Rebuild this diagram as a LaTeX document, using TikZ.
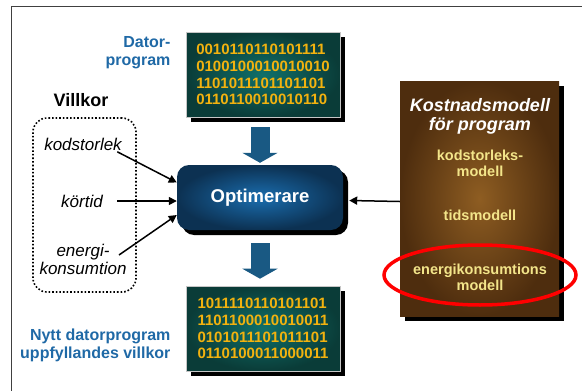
\documentclass[tikz,border=0pt]{standalone}
\usepackage{fontspec}
\setmainfont{Liberation Sans}
\usetikzlibrary{arrows.meta,calc,shadows}
\definecolor{labelblue}{HTML}{1F69A6}
\definecolor{bitgold}{HTML}{F2B20F}
\definecolor{tealdark}{HTML}{0A3C38}
\definecolor{tealmid}{HTML}{10706A}
\definecolor{optdark}{HTML}{0C3152}
\definecolor{optmid}{HTML}{1A6DAE}
\definecolor{browndark}{HTML}{4E2D0E}
\definecolor{brownmid}{HTML}{8E5D22}
\definecolor{modelyellow}{HTML}{F3E58A}
\definecolor{arrowblue}{HTML}{195983}
\tikzset{
  boxshadow/.style={drop shadow={shadow xshift=5pt,shadow yshift=-5pt,opacity=1,fill=black}},
  bits/.style={boxshadow,shade,inner color=tealmid,outer color=tealdark,draw=gray!45,line width=.6pt,
    minimum width=154pt,minimum height=85pt,align=left,text=bitgold,
    font=\bfseries\fontsize{15}{16.7}\selectfont},
  bluelbl/.style={anchor=east,align=right,text=labelblue,font=\bfseries\fontsize{16}{18}\selectfont},
  cond label/.style={align=center,font=\itshape\fontsize{17}{18}\selectfont},
  model/.style={align=center,text=modelyellow,font=\bfseries\fontsize{14.5}{16}\selectfont},
  conn/.style={line width=1.5pt,-{Triangle[length=8pt,width=8pt]}},
  fatarrow/.style={draw=arrowblue,line width=19pt,-{Triangle[length=10pt,width=35pt]}}
}
\begin{document}
\begin{tikzpicture}[x=1pt,y=-1pt]
\useasboundingbox (0,0) rectangle (582,391);
\draw[black!75,line width=1pt] (11,391) -- (11,6) -- (582,6);

% program before and after
\node[bits] (prog) at (263,74.5) {0010110110101111\\0100100010010010\\1101011101101101\\0110110010010110};
\node[bits] (newprog) at (263,328.5) {1011110110101101\\1101100010010011\\0101011101011101\\0110100011000011};
\node[bluelbl] (progname) at (174,52.5) {Dator-\\program};
\node[bluelbl] (newname) at (174,345.5) {Nytt datorprogram\\uppfyllandes villkor};

% optimizer
\node[boxshadow,shade,inner color=optmid,outer color=optdark,rounded corners=12pt,
  minimum width=166pt,minimum height=65pt,text=white,
  font=\bfseries\fontsize{18.5}{20}\selectfont] (opt) at (260,197.5) {Optimerare};
\draw[fatarrow,shorten <=10pt,shorten >=2pt] (prog.south -| opt) -- (opt.north);
\draw[fatarrow,shorten <=13pt,shorten >=7pt] (opt.south) -- (newprog.north -| opt);

% conditions
\node[font=\bfseries\fontsize{18}{20}\selectfont] (villkor) at (81,100) {Villkor};
\node[draw,line width=1.6pt,dash pattern=on 1.6pt off 2pt,rounded corners=14pt,
  minimum width=103pt,minimum height=174pt] (cond) at (84.5,205) {};
\node[cond label] (kod) at (83,144) {kodstorlek};
\node[cond label] (kort) at (82,201) {körtid};
\node[cond label] (en) at (83,259) {energi-\\konsumtion};
\draw[conn] ($(kod.south east)+(-8,-2)$) -- ($(opt.west)+(0,-15)$);
\draw[conn] ($(kort.east)+(11,0)$) -- (opt.west |- kort);
\draw[conn] ($(en.east)+(-11,-4)$) -- ($(opt.west)+(0,17.5)$);

% cost model
\node[boxshadow,shade,inner color=brownmid,outer color=browndark,
  minimum width=159pt,minimum height=235pt] (cost) at (479.5,198.5) {};
\node[align=center,text=white,font=\bfseries\itshape\fontsize{18}{19}\selectfont] (costname) at (480,116.5) {Kostnadsmodell\\för program};
\node[model] (sizem) at (480,163) {kodstorleks-\\modell};
\node[model] (timem) at (480,215) {tidsmodell};
\node[model] (energym) at (480,277) {energikonsumtions\\modell};
\draw[red,line width=3.5pt] (480,275) ellipse (96pt and 30pt);
\draw[conn] ($(cost.west)+(0,3)$) -- ($(opt.east)+(6,3)$);
\end{tikzpicture}
\end{document}
